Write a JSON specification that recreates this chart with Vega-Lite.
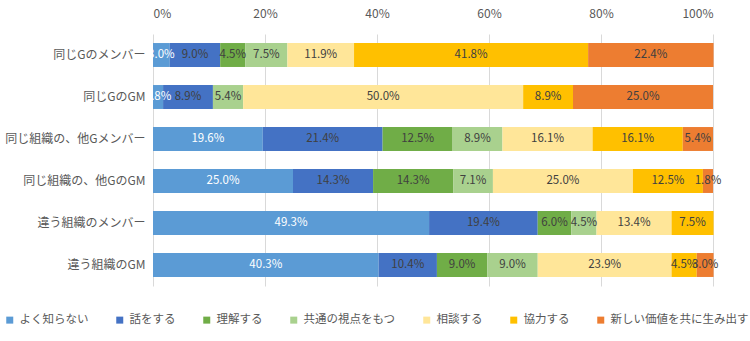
{
  "$schema": "https://vega.github.io/schema/vega-lite/v6.json",
  "width": 560,
  "height": 252,
  "autosize": {"type": "none"},
  "padding": {"left": 153, "top": 34, "right": 37, "bottom": 55},
  "config": {
    "font": "Noto Sans CJK JP",
    "view": {"stroke": null},
    "axis": {"labelColor": "#595959", "labelFont": "Noto Sans CJK JP"},
    "legend": {"labelFont": "Noto Sans CJK JP"}
  },
  "data": {
    "values": [
      {"cat": "同じGのメンバー", "series": "よく知らない", "k": 1, "v": 3.0},
      {"cat": "同じGのメンバー", "series": "話をする", "k": 2, "v": 9.0},
      {"cat": "同じGのメンバー", "series": "理解する", "k": 3, "v": 4.5},
      {"cat": "同じGのメンバー", "series": "共通の視点をもつ", "k": 4, "v": 7.5},
      {"cat": "同じGのメンバー", "series": "相談する", "k": 5, "v": 11.9},
      {"cat": "同じGのメンバー", "series": "協力する", "k": 6, "v": 41.8},
      {"cat": "同じGのメンバー", "series": "新しい価値を共に生み出す", "k": 7, "v": 22.4},
      {"cat": "同じGのGM", "series": "よく知らない", "k": 1, "v": 1.8},
      {"cat": "同じGのGM", "series": "話をする", "k": 2, "v": 8.9},
      {"cat": "同じGのGM", "series": "理解する", "k": 3, "v": 0},
      {"cat": "同じGのGM", "series": "共通の視点をもつ", "k": 4, "v": 5.4},
      {"cat": "同じGのGM", "series": "相談する", "k": 5, "v": 50.0},
      {"cat": "同じGのGM", "series": "協力する", "k": 6, "v": 8.9},
      {"cat": "同じGのGM", "series": "新しい価値を共に生み出す", "k": 7, "v": 25.0},
      {"cat": "同じ組織の、他Gメンバー", "series": "よく知らない", "k": 1, "v": 19.6},
      {"cat": "同じ組織の、他Gメンバー", "series": "話をする", "k": 2, "v": 21.4},
      {"cat": "同じ組織の、他Gメンバー", "series": "理解する", "k": 3, "v": 12.5},
      {"cat": "同じ組織の、他Gメンバー", "series": "共通の視点をもつ", "k": 4, "v": 8.9},
      {"cat": "同じ組織の、他Gメンバー", "series": "相談する", "k": 5, "v": 16.1},
      {"cat": "同じ組織の、他Gメンバー", "series": "協力する", "k": 6, "v": 16.1},
      {"cat": "同じ組織の、他Gメンバー", "series": "新しい価値を共に生み出す", "k": 7, "v": 5.4},
      {"cat": "同じ組織の、他GのGM", "series": "よく知らない", "k": 1, "v": 25.0},
      {"cat": "同じ組織の、他GのGM", "series": "話をする", "k": 2, "v": 14.3},
      {"cat": "同じ組織の、他GのGM", "series": "理解する", "k": 3, "v": 14.3},
      {"cat": "同じ組織の、他GのGM", "series": "共通の視点をもつ", "k": 4, "v": 7.1},
      {"cat": "同じ組織の、他GのGM", "series": "相談する", "k": 5, "v": 25.0},
      {"cat": "同じ組織の、他GのGM", "series": "協力する", "k": 6, "v": 12.5},
      {"cat": "同じ組織の、他GのGM", "series": "新しい価値を共に生み出す", "k": 7, "v": 1.8},
      {"cat": "違う組織のメンバー", "series": "よく知らない", "k": 1, "v": 49.3},
      {"cat": "違う組織のメンバー", "series": "話をする", "k": 2, "v": 19.4},
      {"cat": "違う組織のメンバー", "series": "理解する", "k": 3, "v": 6.0},
      {"cat": "違う組織のメンバー", "series": "共通の視点をもつ", "k": 4, "v": 4.5},
      {"cat": "違う組織のメンバー", "series": "相談する", "k": 5, "v": 13.4},
      {"cat": "違う組織のメンバー", "series": "協力する", "k": 6, "v": 7.5},
      {"cat": "違う組織のメンバー", "series": "新しい価値を共に生み出す", "k": 7, "v": 0},
      {"cat": "違う組織のGM", "series": "よく知らない", "k": 1, "v": 40.3},
      {"cat": "違う組織のGM", "series": "話をする", "k": 2, "v": 10.4},
      {"cat": "違う組織のGM", "series": "理解する", "k": 3, "v": 9.0},
      {"cat": "違う組織のGM", "series": "共通の視点をもつ", "k": 4, "v": 9.0},
      {"cat": "違う組織のGM", "series": "相談する", "k": 5, "v": 23.9},
      {"cat": "違う組織のGM", "series": "協力する", "k": 6, "v": 4.5},
      {"cat": "違う組織のGM", "series": "新しい価値を共に生み出す", "k": 7, "v": 3.0}
    ]
  },
  "transform": [
    {"stack": "v", "groupby": ["cat"], "sort": [{"field": "k", "order": "ascending"}], "as": ["x0", "x1"]},
    {"calculate": "(datum.x0 + datum.x1) / 2", "as": "mid"}
  ],
  "encoding": {
    "y": {
      "field": "cat",
      "type": "nominal",
      "sort": null,
      "scale": {"paddingInner": 0.43, "paddingOuter": 0.215},
      "axis": {"title": null, "domain": false, "ticks": false, "labelFontSize": 12, "labelPadding": 8, "labelColor": "#595959"}
    }
  },
  "layer": [
    {
      "mark": {"type": "bar"},
      "encoding": {
        "x": {
          "field": "x0",
          "type": "quantitative",
          "scale": {"domain": [0, 100], "nice": false},
          "axis": {
            "orient": "top",
            "title": null,
            "values": [0, 20, 40, 60, 80, 100],
            "labelExpr": "datum.value + '%'",
            "domain": false,
            "ticks": false,
            "grid": true,
            "gridColor": "#D9D9D9",
            "labelFontSize": 12,
            "labelPadding": 14,
            "labelColor": "#595959"
          }
        },
        "x2": {"field": "x1"},
        "color": {
          "field": "series",
          "type": "nominal",
          "scale": {
            "domain": ["よく知らない", "話をする", "理解する", "共通の視点をもつ", "相談する", "協力する", "新しい価値を共に生み出す"],
            "range": ["#5B9BD5", "#4472C4", "#70AD47", "#A9D18E", "#FFE699", "#FFC000", "#ED7D31"]
          },
          "legend": {
            "title": null,
            "orient": "none",
            "direction": "horizontal",
            "legendX": -149,
            "legendY": 280,
            "symbolType": "square",
            "symbolSize": 49,
            "symbolStrokeWidth": 0,
            "labelFontSize": 11.5,
            "labelColor": "#595959",
            "labelOffset": 4,
            "columnPadding": 25
          }
        }
      }
    },
    {
      "transform": [{"filter": "datum.v > 0"}],
      "mark": {"type": "text", "fontSize": 11.5, "align": "center", "baseline": "middle"},
      "encoding": {
        "x": {"field": "mid", "type": "quantitative"},
        "text": {"value": {"expr": "format(datum.v, '.1f') + '%'"}},
        "color": {
          "condition": {"test": "datum.series === 'よく知らない'", "value": "#FFFFFF"},
          "value": "#404040"
        }
      }
    }
  ]
}
